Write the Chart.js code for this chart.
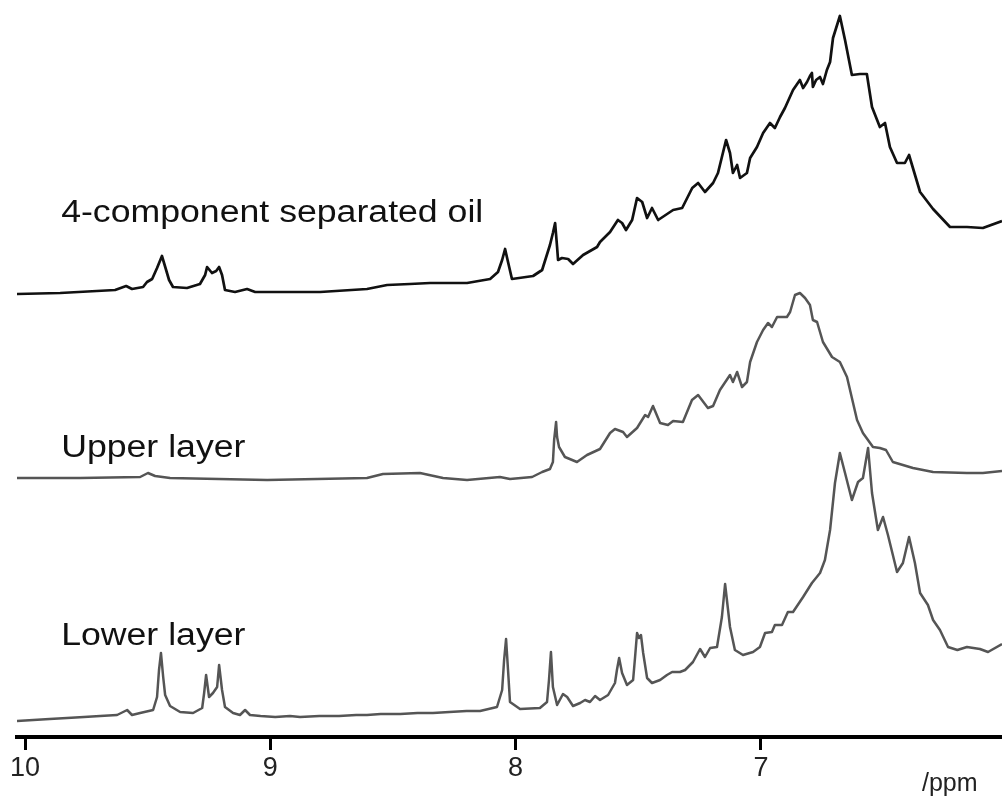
<!DOCTYPE html>
<html>
<head>
<meta charset="utf-8">
<script src="https://cdn.jsdelivr.net/npm/chart.js@4/dist/chart.umd.min.js"></script>
<style>
html, body { margin: 0; padding: 0; background: #fff; }
#wrap { width: 1002px; height: 800px; }
</style>
</head>
<body>
<div id="wrap"><canvas id="nmr" width="1002" height="800"></canvas></div>
<script>
// finestra di chemical shift (ppm), campo alto a destra
var ppmMin = 6.017;
var ppmMax = 10.033;
var tickValues = [10, 9, 8, 7];

// nomi degli spettri, dall'alto in basso
var traceNames = ['4-component separated oil', 'Upper layer', 'Lower layer'];

// olio separato a 4 componenti
var oilPpm = [10.033, 9.857, 9.633, 9.588, 9.564, 9.519, 9.503, 9.482, 9.462, 9.442, 9.425, 9.413, 9.397, 9.340, 9.287, 9.266, 9.258, 9.238, 9.221, 9.209, 9.197, 9.185, 9.144, 9.095, 9.062, 9.013, 8.797, 8.606, 8.524, 8.431, 8.349, 8.198, 8.104, 8.072, 8.055, 8.043, 8.031, 8.015, 7.929, 7.892, 7.860, 7.848, 7.839, 7.831, 7.827, 7.811, 7.786, 7.766, 7.725, 7.668, 7.656, 7.615, 7.583, 7.566, 7.550, 7.525, 7.505, 7.484, 7.464, 7.444, 7.419, 7.358, 7.321, 7.280, 7.256, 7.228, 7.195, 7.175, 7.159, 7.142, 7.126, 7.114, 7.097, 7.085, 7.057, 7.044, 7.016, 6.991, 6.963, 6.943, 6.922, 6.902, 6.869, 6.841, 6.828, 6.812, 6.800, 6.792, 6.788, 6.775, 6.759, 6.747, 6.731, 6.718, 6.706, 6.678, 6.657, 6.629, 6.596, 6.568, 6.547, 6.515, 6.494, 6.474, 6.445, 6.413, 6.396, 6.351, 6.298, 6.229, 6.160, 6.095, 6.017];
var oilInt = [0, 1, 4, 8, 5, 7, 12, 15, 26, 38, 24, 14, 7, 6, 10, 19, 27, 21, 23, 27, 19, 4, 2, 5, 2, 2, 2, 5, 9, 10, 11, 11, 15, 22, 34, 45, 32, 15, 18, 24, 49, 61, 71, 47, 34, 36, 35, 30, 39, 47, 52, 62, 74, 71, 64, 74, 96, 92, 76, 86, 74, 84, 86, 106, 111, 102, 111, 121, 137, 154, 141, 121, 129, 116, 121, 136, 147, 161, 171, 166, 177, 186, 204, 214, 206, 212, 218, 221, 207, 214, 217, 210, 224, 232, 256, 278, 254, 219, 220, 220, 187, 167, 171, 147, 131, 131, 139, 102, 85, 67, 67, 66, 73];

// strato superiore
var upperPpm = [10.033, 9.776, 9.531, 9.499, 9.470, 9.409, 9.013, 8.606, 8.541, 8.390, 8.296, 8.198, 8.064, 8.023, 7.933, 7.892, 7.860, 7.848, 7.843, 7.835, 7.831, 7.823, 7.799, 7.750, 7.709, 7.656, 7.615, 7.595, 7.562, 7.546, 7.505, 7.472, 7.460, 7.440, 7.411, 7.379, 7.358, 7.318, 7.281, 7.256, 7.216, 7.195, 7.167, 7.126, 7.114, 7.097, 7.077, 7.057, 7.044, 7.016, 6.991, 6.971, 6.955, 6.934, 6.894, 6.881, 6.861, 6.841, 6.820, 6.800, 6.788, 6.771, 6.747, 6.710, 6.678, 6.649, 6.608, 6.584, 6.543, 6.515, 6.490, 6.462, 6.380, 6.298, 6.160, 6.095, 6.017];
var upperInt = [0, 0, 1, 5, 2, 0, -2, 0, 4, 5, 0, -2, 1, -1, 1, 6, 9, 16, 38, 56, 41, 31, 21, 16, 23, 29, 45, 49, 46, 41, 50, 63, 61, 72, 55, 53, 57, 56, 78, 83, 70, 72, 88, 103, 96, 106, 91, 96, 116, 136, 148, 155, 151, 161, 161, 166, 183, 185, 180, 173, 158, 156, 136, 121, 116, 101, 58, 45, 31, 30, 28, 16, 10, 6, 5, 5, 7];

// strato inferiore
var lowerPpm = [10.033, 9.900, 9.829, 9.760, 9.694, 9.625, 9.584, 9.564, 9.531, 9.478, 9.462, 9.454, 9.446, 9.437, 9.429, 9.409, 9.368, 9.315, 9.278, 9.270, 9.262, 9.250, 9.234, 9.217, 9.209, 9.197, 9.185, 9.152, 9.124, 9.103, 9.083, 9.040, 8.980, 8.920, 8.879, 8.800, 8.720, 8.650, 8.606, 8.550, 8.470, 8.400, 8.337, 8.270, 8.200, 8.145, 8.076, 8.055, 8.047, 8.039, 8.031, 8.023, 7.982, 7.901, 7.872, 7.864, 7.856, 7.848, 7.831, 7.807, 7.790, 7.766, 7.737, 7.717, 7.697, 7.676, 7.656, 7.623, 7.595, 7.587, 7.578, 7.566, 7.546, 7.521, 7.513, 7.505, 7.497, 7.489, 7.480, 7.464, 7.444, 7.411, 7.383, 7.362, 7.330, 7.309, 7.277, 7.248, 7.228, 7.207, 7.179, 7.159, 7.146, 7.126, 7.106, 7.073, 7.032, 7.004, 6.983, 6.955, 6.943, 6.914, 6.890, 6.869, 6.828, 6.792, 6.759, 6.739, 6.718, 6.698, 6.678, 6.657, 6.629, 6.604, 6.584, 6.563, 6.547, 6.523, 6.502, 6.482, 6.445, 6.421, 6.396, 6.372, 6.351, 6.319, 6.298, 6.270, 6.237, 6.199, 6.160, 6.107, 6.074, 6.017];
var lowerInt = [-1, 1, 2, 3, 4, 5, 10, 5, 7, 10, 23, 50, 67, 43, 25, 14, 8, 7, 12, 27, 45, 23, 27, 33, 55, 30, 13, 7, 5, 10, 5, 4, 3, 4, 3, 4, 4, 5, 5, 6, 6, 7, 7, 8, 9, 9, 13, 30, 60, 81, 50, 18, 11, 12, 18, 40, 68, 33, 15, 26, 23, 14, 17, 20, 18, 24, 20, 25, 37, 50, 62, 47, 35, 40, 63, 87, 82, 85, 67, 42, 37, 40, 45, 48, 48, 50, 58, 71, 63, 72, 73, 103, 136, 93, 70, 65, 68, 73, 87, 88, 95, 95, 108, 108, 123, 137, 147, 160, 190, 237, 267, 247, 220, 238, 242, 272, 227, 190, 203, 185, 148, 157, 183, 157, 127, 115, 100, 90, 73, 70, 73, 71, 68, 76];

// sfalsamento verticale di ogni spettro
var oilShift = 443;
var upperShift = 259;
var lowerShift = 17;

// posizione delle etichette (ppm, livello)
var labelPpm = 9.853;
var labelLevel = [515, 280, 92];

function toPoints(ppm, inten, shift) {
    return ppm.map(function(p, i) {
        return { x: p, y: inten[i] + shift };
    });
}

var traceLabels = {
    id: 'traceLabels',
    afterDraw: function(chart) {
        var ctx = chart.ctx;
        var xs = chart.scales.x;
        var ys = chart.scales.y;
        ctx.save();
        ctx.fillStyle = '#111';
        ctx.textAlign = 'left';
        ctx.textBaseline = 'alphabetic';
        ctx.font = '31px Arial, "Liberation Sans", sans-serif';
        for (var i = 0; i < traceNames.length; i++) {
            ctx.save();
            ctx.translate(xs.getPixelForValue(labelPpm), ys.getPixelForValue(labelLevel[i]));
            ctx.scale(1.15, 1);
            ctx.fillText(traceNames[i], 0, 0);
            ctx.restore();
        }
        ctx.fillStyle = '#222';
        ctx.font = '25px Arial, "Liberation Sans", sans-serif';
        ctx.fillText('/ppm', 922, 791);
        ctx.restore();
    }
};

var chart = new Chart(document.getElementById('nmr'), {
    type: 'line',
    data: {
        datasets: [{
            label: traceNames[0],
            data: toPoints(oilPpm, oilInt, oilShift),
            borderColor: '#111',
            borderWidth: 2.7
        },
        {
            label: traceNames[1],
            data: toPoints(upperPpm, upperInt, upperShift),
            borderColor: '#555',
            borderWidth: 2.5
        },
        {
            label: traceNames[2],
            data: toPoints(lowerPpm, lowerInt, lowerShift),
            borderColor: '#555',
            borderWidth: 2.5
        }]
    },
    options: {
        responsive: false,
        animation: false,
        parsing: false,
        layout: { padding: { left: 17, right: 0, top: 0, bottom: 0 } },
        elements: {
            line: { tension: 0, borderJoinStyle: 'round', fill: false },
            point: { radius: 0 }
        },
        plugins: {
            legend: { display: false },
            tooltip: { enabled: false }
        },
        scales: {
            x: {
                type: 'linear',
                position: 'bottom',
                reverse: true,
                min: ppmMin,
                max: ppmMax,
                afterBuildTicks: function(s) {
                    s.ticks = tickValues.map(function(v) { return { value: v }; });
                },
                afterFit: function(s) {
                    s.height = 63;
                },
                ticks: {
                    color: '#222',
                    padding: 2,
                    maxRotation: 0,
                    autoSkip: false,
                    font: { family: 'Arial, "Liberation Sans", sans-serif', size: 27 }
                },
                grid: {
                    display: true,
                    drawOnChartArea: false,
                    drawTicks: true,
                    tickLength: 13,
                    tickWidth: 3,
                    tickColor: '#000'
                },
                border: { display: true, width: 4, color: '#000' }
            },
            y: {
                type: 'linear',
                display: false,
                min: 0,
                max: 737
            }
        }
    },
    plugins: [traceLabels]
});
</script>
</body>
</html>
